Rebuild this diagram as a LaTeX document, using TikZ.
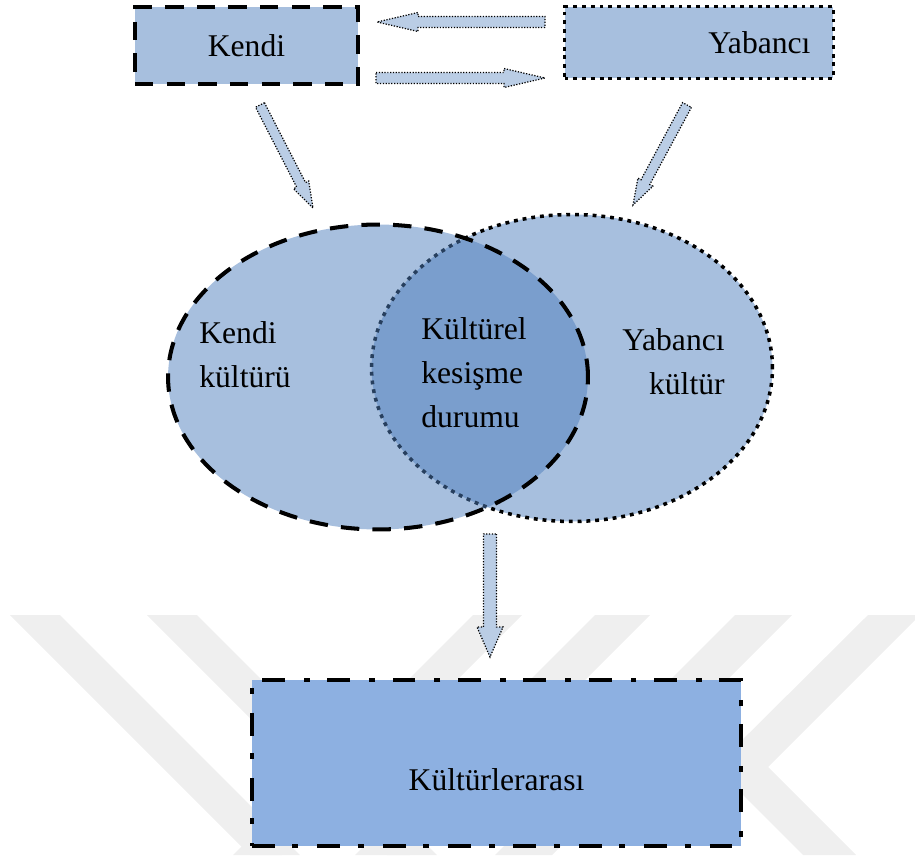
\documentclass[tikz,border=0pt]{standalone}
\usepackage{fontspec}
\setmainfont{Liberation Serif}
\usepackage{tikz}
\usetikzlibrary{shapes.geometric,calc}
\definecolor{boxblue}{RGB}{167,191,222}
\definecolor{deepblue}{RGB}{141,176,225}
\definecolor{arrowblue}{RGB}{186,205,229}
\definecolor{mixblue}{RGB}{79,127,189}
\definecolor{markgray}{RGB}{239,239,239}
\newcommand{\blockarrow}[5]{%
\coordinate (#1-base) at ($(#2)!#5!(#1)$);
\filldraw[blockline] ($(#1)!#3!90:(#2)$) -- ($(#1-base)!#3!90:(#2)$) -- ($(#1-base)!#4!90:(#2)$) -- (#2) -- ($(#1-base)!#4!-90:(#2)$) -- ($(#1-base)!#3!-90:(#2)$) -- ($(#1)!#3!-90:(#2)$) -- cycle;}

\begin{document}
\begin{tikzpicture}[x=0.02cm, y=-0.02cm, font=\fontsize{18}{25}\selectfont,
  dashedline/.style={line width=2.3pt, dash pattern=on 10.5pt off 7.5pt},
  dottedline/.style={line width=2pt, dash pattern=on 2.2pt off 2.8pt},
  dashdotline/.style={line width=2.3pt, dash pattern=on 13pt off 10pt on 3.4pt off 10.8pt},
  blockline/.style={fill=arrowblue, draw=black, line width=0.7pt, dash pattern=on 0.7pt off 0.9pt},
  culture/.style={ellipse, inner sep=0pt},
  label/.style={inner sep=0pt}]
\useasboundingbox (0,0) rectangle (915,855);
\begin{scope}
\clip (0,0) rectangle (915,855);
\fill[markgray] (10,615) -- (60,615) -- (300,855) -- (250,855) -- cycle;
\fill[markgray] (147,615) -- (197,615) -- (437,855) -- (387,855) -- cycle;
\fill[markgray] (473,615) -- (522,615) -- (282,855) -- (233,855) -- cycle;
\fill[markgray] (595,615) -- (650,615) -- (410,855) -- (355,855) -- cycle;
\fill[markgray] (735,615) -- (792,615) -- (552,855) -- (495,855) -- cycle;
\fill[markgray] (868,615) -- (920,615) -- (768,767) -- (856,855) -- (803,855) -- (715,767) -- cycle;
\end{scope}

\node[draw, dashedline, fill=boxblue, minimum width=4.46cm, minimum height=1.54cm] (kendi) at (246.5,45.5) {Kendi};
\node[draw, dottedline, fill=boxblue, text width=4.46cm, inner xsep=0.46cm, align=right, minimum height=1.44cm] (yabanci) at (699,42.5) {Yabancı};

\coordinate (ya1) at (545,22); \coordinate (ke1) at (377,22);
\coordinate (ke2) at (376,78); \coordinate (ya2) at (545,78);
\blockarrow{ya1}{ke1}{0.11cm}{0.19cm}{0.82cm}
\blockarrow{ke2}{ya2}{0.11cm}{0.19cm}{0.82cm}

\coordinate (ke3) at (260,105); \coordinate (kin) at (313,208);
\coordinate (ya3) at (687,105); \coordinate (yin) at (633,205);
\blockarrow{ke3}{kin}{0.1cm}{0.17cm}{0.52cm}
\blockarrow{ya3}{yin}{0.1cm}{0.17cm}{0.52cm}

\node[culture, draw, dottedline, fill=boxblue, minimum width=8.02cm, minimum height=6.14cm] (yabancikultur) at (572,368) {};
\node[culture, draw, dashedline, fill=mixblue, fill opacity=0.5, minimum width=8.4cm, minimum height=6.1cm] (kendikultur) at (378,377) {};

\node[label, anchor=west, align=left] (kendilabel) at (199,355) {Kendi\\kültürü};
\node[label, anchor=west, align=left] (kesisme) at (421,373) {Kültürel\\kesişme\\durumu};
\node[label, anchor=east, align=right] (yabancilabel) at (725,362) {Yabancı\\kültür};

\coordinate (ke4) at (490,534); \coordinate (kin2) at (490,657);
\blockarrow{ke4}{kin2}{0.13cm}{0.26cm}{0.6cm}

\node[draw, dashdotline, fill=deepblue, minimum width=9.78cm, minimum height=3.32cm, text height=31pt, text depth=0pt] (kulturlerarasi) at (496.5,763) {Kültürlerarası};
\end{tikzpicture}
\end{document}
